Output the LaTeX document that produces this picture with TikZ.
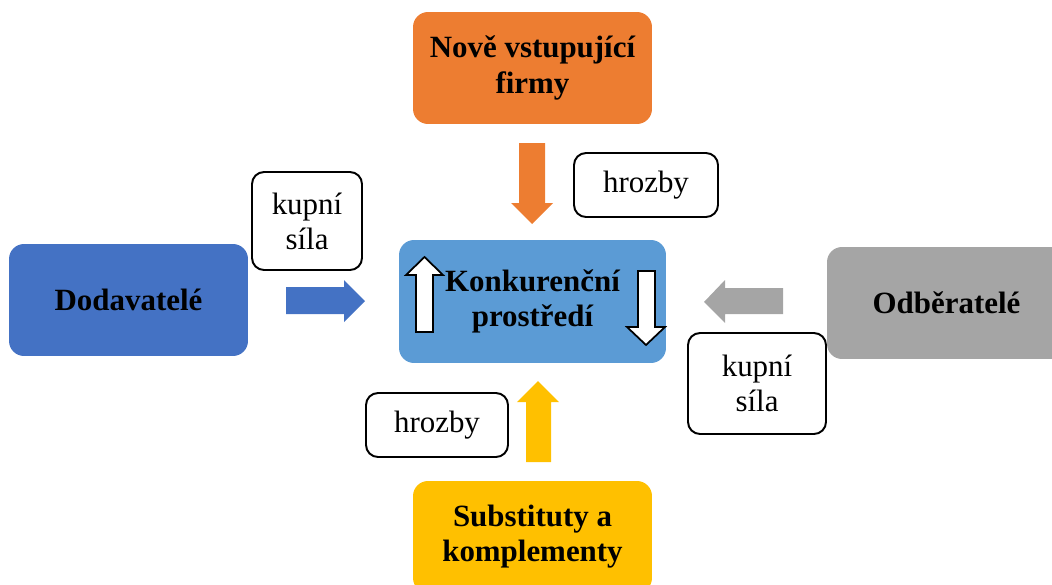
\documentclass[tikz,border=0pt]{standalone}
\usepackage{fontspec}
\setmainfont{Liberation Serif}
\usepackage{xcolor}
\usepackage{tikz}

\definecolor{oranzova}{HTML}{ED7D31}
\definecolor{modra}{HTML}{4472C4}
\definecolor{svetlemodra}{HTML}{5B9BD5}
\definecolor{seda}{HTML}{A5A5A5}
\definecolor{zluta}{HTML}{FFC000}

\begin{document}
\begin{tikzpicture}[x=0.02cm, y=-0.02cm,
    blok/.style={rectangle, rounded corners=0.3cm, inner sep=0pt, align=center,
        minimum width=4.78cm, minimum height=2.24cm,
        font=\fontsize{17.6}{20}\selectfont\bfseries},
    stitek/.style={rectangle, rounded corners=0.24cm, draw=black, line width=1.1pt,
        fill=white, inner sep=0pt, align=center, font=\fontsize{17.6}{20}\selectfont},
    sipka/.style={draw=none}]
    \useasboundingbox (0, 0) rectangle (1052, 585);

    % bloky
    \node [blok, fill=oranzova] (nove) at (532.5, 68) {Nově vstupující\\firmy};
    \node [blok, fill=modra] (dodav) at (128.5, 300) {Dodavatelé};
    \node [blok, fill=svetlemodra, minimum width=5.34cm, minimum height=2.46cm] (konk) at (532.5, 301.5) {Konkurenční\\prostředí};
    \node [blok, fill=seda] (odber) at (946.5, 303) {Odběratelé};
    \node [blok, fill=zluta] (subst) at (532.5, 537) {Substituty a\\komplementy};

    % stitky
    \node [stitek, minimum width=2.2cm, minimum height=1.96cm] (kupniL) at (307, 221) {kupní\\síla};
    \node [stitek, minimum width=2.88cm, minimum height=1.28cm] (hrozbyT) at (646, 185) {hrozby};
    \node [stitek, minimum width=2.76cm, minimum height=2.02cm] (kupniR) at (757, 383.5) {kupní\\síla};
    \node [stitek, minimum width=2.84cm, minimum height=1.28cm] (hrozbyB) at (437, 425) {hrozby};

    % sipky
    \fill[oranzova] (519, 143) -- (545, 143) -- (545, 203) -- (553, 203) -- (532, 224) -- (511, 203) -- (519, 203) -- cycle;
    \fill[zluta] (526, 462) -- (551, 462) -- (551, 402) -- (559, 402) -- (538, 381) -- (517, 402) -- (526, 402) -- cycle;
    \fill[modra] (286, 287) -- (344, 287) -- (344, 280) -- (365, 301) -- (344, 322) -- (344, 314) -- (286, 314) -- cycle;
    \fill[seda] (783, 288) -- (725, 288) -- (725, 280) -- (704, 302) -- (725, 323) -- (725, 314) -- (783, 314) -- cycle;

    % bile sipky v konkurencnim prostredi
    \draw[fill=white, line width=1pt] (416, 332) -- (433, 332) -- (433, 275) -- (443, 275) -- (424.5, 257) -- (406, 275) -- (416, 275) -- cycle;
    \draw[fill=white, line width=1pt] (638, 271) -- (655, 271) -- (655, 327) -- (665, 327) -- (646, 345) -- (627, 327) -- (638, 327) -- cycle;

\end{tikzpicture}
\end{document}
